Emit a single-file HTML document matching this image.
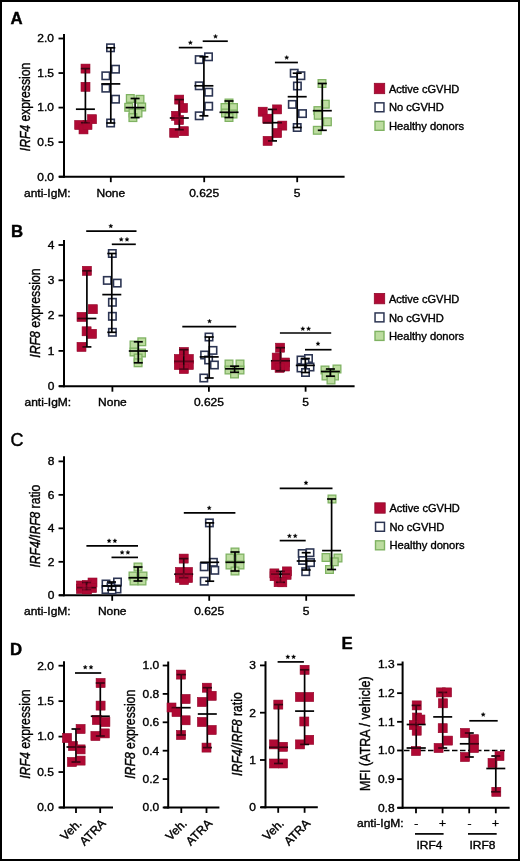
<!DOCTYPE html>
<html><head><meta charset="utf-8"><style>
html,body{margin:0;padding:0;background:#fff;}
body{width:520px;height:861px;overflow:hidden;}
svg{display:block;will-change:transform;}
text{font-family:"Liberation Sans", sans-serif;fill:#000;stroke:#000;stroke-width:0.4px;}
</style></head><body>
<svg width="520" height="861" viewBox="0 0 520 861">
<rect x="0" y="0" width="520" height="861" fill="#fff"/>
<rect x="1" y="1" width="518" height="859" fill="none" stroke="#000" stroke-width="2"/>
<text transform="translate(10.60,23.50) scale(1,1.0)" font-size="16.8" text-anchor="start" font-weight="bold" font-style="normal" >A</text>
<line x1="64.00" y1="34.00" x2="64.00" y2="177.70" stroke="#000" stroke-width="2"/>
<line x1="58.50" y1="176.70" x2="64.00" y2="176.70" stroke="#000" stroke-width="1.8"/>
<text transform="translate(53.90,180.54) scale(1,0.87)" font-size="12" text-anchor="end" font-weight="normal" font-style="normal" >0.0</text>
<line x1="58.50" y1="142.15" x2="64.00" y2="142.15" stroke="#000" stroke-width="1.8"/>
<text transform="translate(53.90,145.99) scale(1,0.87)" font-size="12" text-anchor="end" font-weight="normal" font-style="normal" >0.5</text>
<line x1="58.50" y1="107.60" x2="64.00" y2="107.60" stroke="#000" stroke-width="1.8"/>
<text transform="translate(53.90,111.44) scale(1,0.87)" font-size="12" text-anchor="end" font-weight="normal" font-style="normal" >1.0</text>
<line x1="58.50" y1="73.05" x2="64.00" y2="73.05" stroke="#000" stroke-width="1.8"/>
<text transform="translate(53.90,76.89) scale(1,0.87)" font-size="12" text-anchor="end" font-weight="normal" font-style="normal" >1.5</text>
<line x1="58.50" y1="38.50" x2="64.00" y2="38.50" stroke="#000" stroke-width="1.8"/>
<text transform="translate(53.90,42.34) scale(1,0.87)" font-size="12" text-anchor="end" font-weight="normal" font-style="normal" >2.0</text>
<line x1="59.00" y1="176.70" x2="344.60" y2="176.70" stroke="#000" stroke-width="2"/>
<line x1="110.80" y1="176.70" x2="110.80" y2="182.20" stroke="#000" stroke-width="1.8"/>
<line x1="204.20" y1="176.70" x2="204.20" y2="182.20" stroke="#000" stroke-width="1.8"/>
<line x1="297.20" y1="176.70" x2="297.20" y2="182.20" stroke="#000" stroke-width="1.8"/>
<text transform="translate(30.40,107.00) rotate(-90)" x="0" y="0" font-size="14.6" text-anchor="middle" textLength="88.5" lengthAdjust="spacingAndGlyphs"><tspan font-style="italic">IRF4</tspan><tspan font-style="normal"> expression</tspan></text>
<text transform="translate(24.00,196.70) scale(1,0.87)" font-size="12" text-anchor="start" font-weight="normal" font-style="normal" >anti-IgM:</text>
<text transform="translate(110.80,196.70) scale(1,0.87)" font-size="12" text-anchor="middle" font-weight="normal" font-style="normal" >None</text>
<text transform="translate(204.20,196.70) scale(1,0.87)" font-size="12" text-anchor="middle" font-weight="normal" font-style="normal" >0.625</text>
<text transform="translate(297.20,196.70) scale(1,0.87)" font-size="12" text-anchor="middle" font-weight="normal" font-style="normal" >5</text>
<rect x="81.00" y="64.10" width="9.00" height="9.00" fill="#b00a35" stroke="#900b2c" stroke-width="0.6"/>
<rect x="81.00" y="82.30" width="9.00" height="9.00" fill="#b00a35" stroke="#900b2c" stroke-width="0.6"/>
<rect x="87.50" y="114.70" width="9.00" height="9.00" fill="#b00a35" stroke="#900b2c" stroke-width="0.6"/>
<rect x="74.70" y="120.50" width="9.00" height="9.00" fill="#b00a35" stroke="#900b2c" stroke-width="0.6"/>
<rect x="79.00" y="124.90" width="9.00" height="9.00" fill="#b00a35" stroke="#900b2c" stroke-width="0.6"/>
<rect x="83.00" y="120.50" width="9.00" height="9.00" fill="#b00a35" stroke="#900b2c" stroke-width="0.6"/>
<rect x="106.80" y="44.10" width="7.40" height="7.40" fill="#ffffff" stroke="#2c3553" stroke-width="1.6"/>
<rect x="111.80" y="65.50" width="7.40" height="7.40" fill="#ffffff" stroke="#2c3553" stroke-width="1.6"/>
<rect x="102.10" y="72.10" width="7.40" height="7.40" fill="#ffffff" stroke="#2c3553" stroke-width="1.6"/>
<rect x="102.10" y="84.50" width="7.40" height="7.40" fill="#ffffff" stroke="#2c3553" stroke-width="1.6"/>
<rect x="111.80" y="95.50" width="7.40" height="7.40" fill="#ffffff" stroke="#2c3553" stroke-width="1.6"/>
<rect x="106.90" y="119.30" width="7.40" height="7.40" fill="#ffffff" stroke="#2c3553" stroke-width="1.6"/>
<rect x="126.45" y="94.65" width="7.70" height="7.70" fill="#bcdc9f" stroke="#7fb262" stroke-width="1.3"/>
<rect x="136.15" y="95.45" width="7.70" height="7.70" fill="#bcdc9f" stroke="#7fb262" stroke-width="1.3"/>
<rect x="124.85" y="103.45" width="7.70" height="7.70" fill="#bcdc9f" stroke="#7fb262" stroke-width="1.3"/>
<rect x="137.85" y="103.15" width="7.70" height="7.70" fill="#bcdc9f" stroke="#7fb262" stroke-width="1.3"/>
<rect x="129.15" y="109.15" width="7.70" height="7.70" fill="#bcdc9f" stroke="#7fb262" stroke-width="1.3"/>
<rect x="134.15" y="109.15" width="7.70" height="7.70" fill="#bcdc9f" stroke="#7fb262" stroke-width="1.3"/>
<rect x="129.05" y="113.75" width="7.70" height="7.70" fill="#bcdc9f" stroke="#7fb262" stroke-width="1.3"/>
<rect x="174.70" y="95.10" width="9.00" height="9.00" fill="#b00a35" stroke="#900b2c" stroke-width="0.6"/>
<rect x="178.50" y="103.50" width="9.00" height="9.00" fill="#b00a35" stroke="#900b2c" stroke-width="0.6"/>
<rect x="171.50" y="111.30" width="9.00" height="9.00" fill="#b00a35" stroke="#900b2c" stroke-width="0.6"/>
<rect x="174.50" y="115.50" width="9.00" height="9.00" fill="#b00a35" stroke="#900b2c" stroke-width="0.6"/>
<rect x="169.70" y="128.30" width="9.00" height="9.00" fill="#b00a35" stroke="#900b2c" stroke-width="0.6"/>
<rect x="179.30" y="126.70" width="9.00" height="9.00" fill="#b00a35" stroke="#900b2c" stroke-width="0.6"/>
<rect x="195.50" y="55.90" width="7.40" height="7.40" fill="#ffffff" stroke="#2c3553" stroke-width="1.6"/>
<rect x="204.80" y="53.10" width="7.40" height="7.40" fill="#ffffff" stroke="#2c3553" stroke-width="1.6"/>
<rect x="195.50" y="82.10" width="7.40" height="7.40" fill="#ffffff" stroke="#2c3553" stroke-width="1.6"/>
<rect x="205.00" y="88.50" width="7.40" height="7.40" fill="#ffffff" stroke="#2c3553" stroke-width="1.6"/>
<rect x="205.00" y="102.50" width="7.40" height="7.40" fill="#ffffff" stroke="#2c3553" stroke-width="1.6"/>
<rect x="195.50" y="112.10" width="7.40" height="7.40" fill="#ffffff" stroke="#2c3553" stroke-width="1.6"/>
<rect x="225.15" y="99.15" width="7.70" height="7.70" fill="#bcdc9f" stroke="#7fb262" stroke-width="1.3"/>
<rect x="221.15" y="103.65" width="7.70" height="7.70" fill="#bcdc9f" stroke="#7fb262" stroke-width="1.3"/>
<rect x="229.65" y="103.65" width="7.70" height="7.70" fill="#bcdc9f" stroke="#7fb262" stroke-width="1.3"/>
<rect x="221.65" y="109.15" width="7.70" height="7.70" fill="#bcdc9f" stroke="#7fb262" stroke-width="1.3"/>
<rect x="229.15" y="110.15" width="7.70" height="7.70" fill="#bcdc9f" stroke="#7fb262" stroke-width="1.3"/>
<rect x="225.15" y="113.65" width="7.70" height="7.70" fill="#bcdc9f" stroke="#7fb262" stroke-width="1.3"/>
<rect x="258.20" y="107.20" width="9.00" height="9.00" fill="#b00a35" stroke="#900b2c" stroke-width="0.6"/>
<rect x="272.60" y="104.90" width="9.00" height="9.00" fill="#b00a35" stroke="#900b2c" stroke-width="0.6"/>
<rect x="262.80" y="114.20" width="9.00" height="9.00" fill="#b00a35" stroke="#900b2c" stroke-width="0.6"/>
<rect x="277.80" y="121.10" width="9.00" height="9.00" fill="#b00a35" stroke="#900b2c" stroke-width="0.6"/>
<rect x="272.60" y="128.60" width="9.00" height="9.00" fill="#b00a35" stroke="#900b2c" stroke-width="0.6"/>
<rect x="263.10" y="136.40" width="9.00" height="9.00" fill="#b00a35" stroke="#900b2c" stroke-width="0.6"/>
<rect x="290.50" y="69.50" width="7.40" height="7.40" fill="#ffffff" stroke="#2c3553" stroke-width="1.6"/>
<rect x="297.20" y="72.00" width="7.40" height="7.40" fill="#ffffff" stroke="#2c3553" stroke-width="1.6"/>
<rect x="293.70" y="82.30" width="7.40" height="7.40" fill="#ffffff" stroke="#2c3553" stroke-width="1.6"/>
<rect x="288.60" y="100.70" width="7.40" height="7.40" fill="#ffffff" stroke="#2c3553" stroke-width="1.6"/>
<rect x="298.80" y="109.90" width="7.40" height="7.40" fill="#ffffff" stroke="#2c3553" stroke-width="1.6"/>
<rect x="293.50" y="123.80" width="7.40" height="7.40" fill="#ffffff" stroke="#2c3553" stroke-width="1.6"/>
<rect x="318.15" y="79.65" width="7.70" height="7.70" fill="#bcdc9f" stroke="#7fb262" stroke-width="1.3"/>
<rect x="321.45" y="100.35" width="7.70" height="7.70" fill="#bcdc9f" stroke="#7fb262" stroke-width="1.3"/>
<rect x="314.05" y="106.75" width="7.70" height="7.70" fill="#bcdc9f" stroke="#7fb262" stroke-width="1.3"/>
<rect x="314.35" y="111.45" width="7.70" height="7.70" fill="#bcdc9f" stroke="#7fb262" stroke-width="1.3"/>
<rect x="323.55" y="117.95" width="7.70" height="7.70" fill="#bcdc9f" stroke="#7fb262" stroke-width="1.3"/>
<rect x="313.45" y="126.45" width="7.70" height="7.70" fill="#bcdc9f" stroke="#7fb262" stroke-width="1.3"/>
<line x1="85.40" y1="68.60" x2="85.40" y2="122.70" stroke="#000" stroke-width="1.7"/>
<line x1="80.90" y1="68.60" x2="89.90" y2="68.60" stroke="#000" stroke-width="1.7"/>
<line x1="80.90" y1="122.70" x2="89.90" y2="122.70" stroke="#000" stroke-width="1.7"/>
<line x1="75.90" y1="109.20" x2="94.90" y2="109.20" stroke="#000" stroke-width="1.7"/>
<line x1="110.80" y1="47.80" x2="110.80" y2="123.00" stroke="#000" stroke-width="1.7"/>
<line x1="106.30" y1="47.80" x2="115.30" y2="47.80" stroke="#000" stroke-width="1.7"/>
<line x1="106.30" y1="123.00" x2="115.30" y2="123.00" stroke="#000" stroke-width="1.7"/>
<line x1="101.30" y1="83.90" x2="120.30" y2="83.90" stroke="#000" stroke-width="1.7"/>
<line x1="135.10" y1="98.50" x2="135.10" y2="117.60" stroke="#000" stroke-width="1.7"/>
<line x1="130.60" y1="98.50" x2="139.60" y2="98.50" stroke="#000" stroke-width="1.7"/>
<line x1="130.60" y1="117.60" x2="139.60" y2="117.60" stroke="#000" stroke-width="1.7"/>
<line x1="125.60" y1="107.60" x2="144.60" y2="107.60" stroke="#000" stroke-width="1.7"/>
<line x1="179.30" y1="99.60" x2="179.30" y2="129.70" stroke="#000" stroke-width="1.7"/>
<line x1="174.80" y1="99.60" x2="183.80" y2="99.60" stroke="#000" stroke-width="1.7"/>
<line x1="174.80" y1="129.70" x2="183.80" y2="129.70" stroke="#000" stroke-width="1.7"/>
<line x1="169.80" y1="118.00" x2="188.80" y2="118.00" stroke="#000" stroke-width="1.7"/>
<line x1="203.90" y1="56.80" x2="203.90" y2="115.80" stroke="#000" stroke-width="1.7"/>
<line x1="199.40" y1="56.80" x2="208.40" y2="56.80" stroke="#000" stroke-width="1.7"/>
<line x1="199.40" y1="115.80" x2="208.40" y2="115.80" stroke="#000" stroke-width="1.7"/>
<line x1="194.40" y1="85.80" x2="213.40" y2="85.80" stroke="#000" stroke-width="1.7"/>
<line x1="229.00" y1="101.00" x2="229.00" y2="117.50" stroke="#000" stroke-width="1.7"/>
<line x1="224.50" y1="101.00" x2="233.50" y2="101.00" stroke="#000" stroke-width="1.7"/>
<line x1="224.50" y1="117.50" x2="233.50" y2="117.50" stroke="#000" stroke-width="1.7"/>
<line x1="219.50" y1="112.30" x2="238.50" y2="112.30" stroke="#000" stroke-width="1.7"/>
<line x1="272.50" y1="109.40" x2="272.50" y2="140.90" stroke="#000" stroke-width="1.7"/>
<line x1="268.00" y1="109.40" x2="277.00" y2="109.40" stroke="#000" stroke-width="1.7"/>
<line x1="268.00" y1="140.90" x2="277.00" y2="140.90" stroke="#000" stroke-width="1.7"/>
<line x1="263.00" y1="122.70" x2="282.00" y2="122.70" stroke="#000" stroke-width="1.7"/>
<line x1="297.20" y1="73.20" x2="297.20" y2="127.50" stroke="#000" stroke-width="1.7"/>
<line x1="292.70" y1="73.20" x2="301.70" y2="73.20" stroke="#000" stroke-width="1.7"/>
<line x1="292.70" y1="127.50" x2="301.70" y2="127.50" stroke="#000" stroke-width="1.7"/>
<line x1="287.70" y1="96.70" x2="306.70" y2="96.70" stroke="#000" stroke-width="1.7"/>
<line x1="322.30" y1="83.50" x2="322.30" y2="130.30" stroke="#000" stroke-width="1.7"/>
<line x1="317.80" y1="83.50" x2="326.80" y2="83.50" stroke="#000" stroke-width="1.7"/>
<line x1="317.80" y1="130.30" x2="326.80" y2="130.30" stroke="#000" stroke-width="1.7"/>
<line x1="312.80" y1="110.70" x2="331.80" y2="110.70" stroke="#000" stroke-width="1.7"/>
<rect x="81.00" y="64.10" width="9.00" height="9.00" fill="#b00a35" fill-opacity="0.35"/>
<rect x="81.00" y="82.30" width="9.00" height="9.00" fill="#b00a35" fill-opacity="0.35"/>
<rect x="87.50" y="114.70" width="9.00" height="9.00" fill="#b00a35" fill-opacity="0.35"/>
<rect x="74.70" y="120.50" width="9.00" height="9.00" fill="#b00a35" fill-opacity="0.35"/>
<rect x="79.00" y="124.90" width="9.00" height="9.00" fill="#b00a35" fill-opacity="0.35"/>
<rect x="83.00" y="120.50" width="9.00" height="9.00" fill="#b00a35" fill-opacity="0.35"/>
<rect x="174.70" y="95.10" width="9.00" height="9.00" fill="#b00a35" fill-opacity="0.35"/>
<rect x="178.50" y="103.50" width="9.00" height="9.00" fill="#b00a35" fill-opacity="0.35"/>
<rect x="171.50" y="111.30" width="9.00" height="9.00" fill="#b00a35" fill-opacity="0.35"/>
<rect x="174.50" y="115.50" width="9.00" height="9.00" fill="#b00a35" fill-opacity="0.35"/>
<rect x="169.70" y="128.30" width="9.00" height="9.00" fill="#b00a35" fill-opacity="0.35"/>
<rect x="179.30" y="126.70" width="9.00" height="9.00" fill="#b00a35" fill-opacity="0.35"/>
<rect x="258.20" y="107.20" width="9.00" height="9.00" fill="#b00a35" fill-opacity="0.35"/>
<rect x="272.60" y="104.90" width="9.00" height="9.00" fill="#b00a35" fill-opacity="0.35"/>
<rect x="262.80" y="114.20" width="9.00" height="9.00" fill="#b00a35" fill-opacity="0.35"/>
<rect x="277.80" y="121.10" width="9.00" height="9.00" fill="#b00a35" fill-opacity="0.35"/>
<rect x="272.60" y="128.60" width="9.00" height="9.00" fill="#b00a35" fill-opacity="0.35"/>
<rect x="263.10" y="136.40" width="9.00" height="9.00" fill="#b00a35" fill-opacity="0.35"/>
<line x1="178.80" y1="47.60" x2="202.40" y2="47.60" stroke="#000" stroke-width="1.7"/>
<polygon points="190.40,40.50 190.99,41.89 192.49,42.02 191.35,43.01 191.69,44.48 190.40,43.70 189.11,44.48 189.45,43.01 188.31,42.02 189.81,41.89" fill="#000" stroke="#000" stroke-width="0.35" stroke-linejoin="round"/>
<line x1="202.70" y1="41.20" x2="227.80" y2="41.20" stroke="#000" stroke-width="1.7"/>
<polygon points="215.50,34.30 216.09,35.69 217.59,35.82 216.45,36.81 216.79,38.28 215.50,37.50 214.21,38.28 214.55,36.81 213.41,35.82 214.91,35.69" fill="#000" stroke="#000" stroke-width="0.35" stroke-linejoin="round"/>
<line x1="274.90" y1="62.50" x2="297.90" y2="62.50" stroke="#000" stroke-width="1.7"/>
<polygon points="286.70,55.40 287.29,56.79 288.79,56.92 287.65,57.91 287.99,59.38 286.70,58.60 285.41,59.38 285.75,57.91 284.61,56.92 286.11,56.79" fill="#000" stroke="#000" stroke-width="0.35" stroke-linejoin="round"/>
<rect x="374.30" y="83.30" width="10.4" height="10.4" fill="#b00a35" stroke="#900b2c" stroke-width="0.8"/>
<text transform="translate(388.90,92.60) scale(1,0.87)" font-size="11.6" text-anchor="start" font-weight="normal" font-style="normal" textLength="70.4" lengthAdjust="spacingAndGlyphs">Active cGVHD</text>
<rect x="375.05" y="102.85" width="8.9" height="8.9" fill="#fff" stroke="#2c3553" stroke-width="1.5"/>
<text transform="translate(388.90,111.40) scale(1,0.87)" font-size="11.6" text-anchor="start" font-weight="normal" font-style="normal" textLength="55.0" lengthAdjust="spacingAndGlyphs">No cGVHD</text>
<rect x="375.00" y="121.30" width="9.0" height="9.0" fill="#bcdc9f" stroke="#7fb262" stroke-width="1.4"/>
<text transform="translate(388.90,129.90) scale(1,0.87)" font-size="11.6" text-anchor="start" font-weight="normal" font-style="normal" textLength="75.2" lengthAdjust="spacingAndGlyphs">Healthy donors</text>
<text transform="translate(11.00,236.50) scale(1,1.0)" font-size="16.8" text-anchor="start" font-weight="bold" font-style="normal" >B</text>
<line x1="64.00" y1="240.00" x2="64.00" y2="387.20" stroke="#000" stroke-width="2"/>
<line x1="58.50" y1="386.20" x2="64.00" y2="386.20" stroke="#000" stroke-width="1.8"/>
<text transform="translate(54.40,390.04) scale(1,0.87)" font-size="12" text-anchor="end" font-weight="normal" font-style="normal" >0</text>
<line x1="58.50" y1="350.90" x2="64.00" y2="350.90" stroke="#000" stroke-width="1.8"/>
<text transform="translate(54.40,354.74) scale(1,0.87)" font-size="12" text-anchor="end" font-weight="normal" font-style="normal" >1</text>
<line x1="58.50" y1="315.60" x2="64.00" y2="315.60" stroke="#000" stroke-width="1.8"/>
<text transform="translate(54.40,319.44) scale(1,0.87)" font-size="12" text-anchor="end" font-weight="normal" font-style="normal" >2</text>
<line x1="58.50" y1="280.30" x2="64.00" y2="280.30" stroke="#000" stroke-width="1.8"/>
<text transform="translate(54.40,284.14) scale(1,0.87)" font-size="12" text-anchor="end" font-weight="normal" font-style="normal" >3</text>
<line x1="58.50" y1="245.00" x2="64.00" y2="245.00" stroke="#000" stroke-width="1.8"/>
<text transform="translate(54.40,248.84) scale(1,0.87)" font-size="12" text-anchor="end" font-weight="normal" font-style="normal" >4</text>
<line x1="59.00" y1="386.20" x2="354.60" y2="386.20" stroke="#000" stroke-width="2"/>
<line x1="112.40" y1="386.20" x2="112.40" y2="391.70" stroke="#000" stroke-width="1.8"/>
<line x1="208.90" y1="386.20" x2="208.90" y2="391.70" stroke="#000" stroke-width="1.8"/>
<line x1="305.60" y1="386.20" x2="305.60" y2="391.70" stroke="#000" stroke-width="1.8"/>
<text transform="translate(40.20,313.00) rotate(-90)" x="0" y="0" font-size="14.6" text-anchor="middle" textLength="89.3" lengthAdjust="spacingAndGlyphs"><tspan font-style="italic">IRF8</tspan><tspan font-style="normal"> expression</tspan></text>
<text transform="translate(24.50,406.10) scale(1,0.87)" font-size="12" text-anchor="start" font-weight="normal" font-style="normal" >anti-IgM:</text>
<text transform="translate(112.40,406.10) scale(1,0.87)" font-size="12" text-anchor="middle" font-weight="normal" font-style="normal" >None</text>
<text transform="translate(208.90,406.10) scale(1,0.87)" font-size="12" text-anchor="middle" font-weight="normal" font-style="normal" >0.625</text>
<text transform="translate(305.60,406.10) scale(1,0.87)" font-size="12" text-anchor="middle" font-weight="normal" font-style="normal" >5</text>
<rect x="82.40" y="266.30" width="9.00" height="9.00" fill="#b00a35" stroke="#900b2c" stroke-width="0.6"/>
<rect x="88.30" y="304.70" width="9.00" height="9.00" fill="#b00a35" stroke="#900b2c" stroke-width="0.6"/>
<rect x="77.00" y="312.40" width="9.00" height="9.00" fill="#b00a35" stroke="#900b2c" stroke-width="0.6"/>
<rect x="82.10" y="326.80" width="9.00" height="9.00" fill="#b00a35" stroke="#900b2c" stroke-width="0.6"/>
<rect x="87.50" y="329.30" width="9.00" height="9.00" fill="#b00a35" stroke="#900b2c" stroke-width="0.6"/>
<rect x="77.00" y="342.40" width="9.00" height="9.00" fill="#b00a35" stroke="#900b2c" stroke-width="0.6"/>
<rect x="108.60" y="249.80" width="7.40" height="7.40" fill="#ffffff" stroke="#2c3553" stroke-width="1.6"/>
<rect x="103.60" y="276.70" width="7.40" height="7.40" fill="#ffffff" stroke="#2c3553" stroke-width="1.6"/>
<rect x="113.50" y="279.40" width="7.40" height="7.40" fill="#ffffff" stroke="#2c3553" stroke-width="1.6"/>
<rect x="108.70" y="298.60" width="7.40" height="7.40" fill="#ffffff" stroke="#2c3553" stroke-width="1.6"/>
<rect x="108.70" y="312.60" width="7.40" height="7.40" fill="#ffffff" stroke="#2c3553" stroke-width="1.6"/>
<rect x="108.70" y="328.60" width="7.40" height="7.40" fill="#ffffff" stroke="#2c3553" stroke-width="1.6"/>
<rect x="137.95" y="337.95" width="7.70" height="7.70" fill="#bcdc9f" stroke="#7fb262" stroke-width="1.3"/>
<rect x="130.15" y="341.15" width="7.70" height="7.70" fill="#bcdc9f" stroke="#7fb262" stroke-width="1.3"/>
<rect x="130.15" y="348.15" width="7.70" height="7.70" fill="#bcdc9f" stroke="#7fb262" stroke-width="1.3"/>
<rect x="137.65" y="349.15" width="7.70" height="7.70" fill="#bcdc9f" stroke="#7fb262" stroke-width="1.3"/>
<rect x="134.25" y="354.15" width="7.70" height="7.70" fill="#bcdc9f" stroke="#7fb262" stroke-width="1.3"/>
<rect x="134.25" y="358.95" width="7.70" height="7.70" fill="#bcdc9f" stroke="#7fb262" stroke-width="1.3"/>
<rect x="179.30" y="347.50" width="9.00" height="9.00" fill="#b00a35" stroke="#900b2c" stroke-width="0.6"/>
<rect x="174.30" y="354.50" width="9.00" height="9.00" fill="#b00a35" stroke="#900b2c" stroke-width="0.6"/>
<rect x="184.30" y="354.50" width="9.00" height="9.00" fill="#b00a35" stroke="#900b2c" stroke-width="0.6"/>
<rect x="174.30" y="360.50" width="9.00" height="9.00" fill="#b00a35" stroke="#900b2c" stroke-width="0.6"/>
<rect x="184.30" y="360.50" width="9.00" height="9.00" fill="#b00a35" stroke="#900b2c" stroke-width="0.6"/>
<rect x="179.30" y="364.50" width="9.00" height="9.00" fill="#b00a35" stroke="#900b2c" stroke-width="0.6"/>
<rect x="205.30" y="333.30" width="7.40" height="7.40" fill="#ffffff" stroke="#2c3553" stroke-width="1.6"/>
<rect x="209.30" y="346.70" width="7.40" height="7.40" fill="#ffffff" stroke="#2c3553" stroke-width="1.6"/>
<rect x="200.90" y="351.30" width="7.40" height="7.40" fill="#ffffff" stroke="#2c3553" stroke-width="1.6"/>
<rect x="204.90" y="356.30" width="7.40" height="7.40" fill="#ffffff" stroke="#2c3553" stroke-width="1.6"/>
<rect x="210.70" y="361.30" width="7.40" height="7.40" fill="#ffffff" stroke="#2c3553" stroke-width="1.6"/>
<rect x="200.10" y="374.30" width="7.40" height="7.40" fill="#ffffff" stroke="#2c3553" stroke-width="1.6"/>
<rect x="225.15" y="360.15" width="7.70" height="7.70" fill="#bcdc9f" stroke="#7fb262" stroke-width="1.3"/>
<rect x="236.15" y="360.15" width="7.70" height="7.70" fill="#bcdc9f" stroke="#7fb262" stroke-width="1.3"/>
<rect x="225.15" y="366.15" width="7.70" height="7.70" fill="#bcdc9f" stroke="#7fb262" stroke-width="1.3"/>
<rect x="236.15" y="366.15" width="7.70" height="7.70" fill="#bcdc9f" stroke="#7fb262" stroke-width="1.3"/>
<rect x="230.65" y="370.15" width="7.70" height="7.70" fill="#bcdc9f" stroke="#7fb262" stroke-width="1.3"/>
<rect x="275.60" y="343.20" width="9.00" height="9.00" fill="#b00a35" stroke="#900b2c" stroke-width="0.6"/>
<rect x="272.20" y="353.10" width="9.00" height="9.00" fill="#b00a35" stroke="#900b2c" stroke-width="0.6"/>
<rect x="280.50" y="358.00" width="9.00" height="9.00" fill="#b00a35" stroke="#900b2c" stroke-width="0.6"/>
<rect x="271.50" y="360.50" width="9.00" height="9.00" fill="#b00a35" stroke="#900b2c" stroke-width="0.6"/>
<rect x="280.50" y="362.00" width="9.00" height="9.00" fill="#b00a35" stroke="#900b2c" stroke-width="0.6"/>
<rect x="275.10" y="363.30" width="9.00" height="9.00" fill="#b00a35" stroke="#900b2c" stroke-width="0.6"/>
<rect x="297.30" y="356.30" width="7.40" height="7.40" fill="#ffffff" stroke="#2c3553" stroke-width="1.6"/>
<rect x="304.80" y="354.80" width="7.40" height="7.40" fill="#ffffff" stroke="#2c3553" stroke-width="1.6"/>
<rect x="301.30" y="359.30" width="7.40" height="7.40" fill="#ffffff" stroke="#2c3553" stroke-width="1.6"/>
<rect x="306.30" y="363.30" width="7.40" height="7.40" fill="#ffffff" stroke="#2c3553" stroke-width="1.6"/>
<rect x="297.30" y="364.30" width="7.40" height="7.40" fill="#ffffff" stroke="#2c3553" stroke-width="1.6"/>
<rect x="301.80" y="368.80" width="7.40" height="7.40" fill="#ffffff" stroke="#2c3553" stroke-width="1.6"/>
<rect x="321.15" y="366.15" width="7.70" height="7.70" fill="#bcdc9f" stroke="#7fb262" stroke-width="1.3"/>
<rect x="333.15" y="365.15" width="7.70" height="7.70" fill="#bcdc9f" stroke="#7fb262" stroke-width="1.3"/>
<rect x="326.15" y="370.15" width="7.70" height="7.70" fill="#bcdc9f" stroke="#7fb262" stroke-width="1.3"/>
<rect x="322.15" y="372.15" width="7.70" height="7.70" fill="#bcdc9f" stroke="#7fb262" stroke-width="1.3"/>
<rect x="330.65" y="372.15" width="7.70" height="7.70" fill="#bcdc9f" stroke="#7fb262" stroke-width="1.3"/>
<rect x="327.15" y="376.15" width="7.70" height="7.70" fill="#bcdc9f" stroke="#7fb262" stroke-width="1.3"/>
<line x1="86.90" y1="270.80" x2="86.90" y2="346.90" stroke="#000" stroke-width="1.7"/>
<line x1="82.40" y1="270.80" x2="91.40" y2="270.80" stroke="#000" stroke-width="1.7"/>
<line x1="82.40" y1="346.90" x2="91.40" y2="346.90" stroke="#000" stroke-width="1.7"/>
<line x1="77.40" y1="318.50" x2="96.40" y2="318.50" stroke="#000" stroke-width="1.7"/>
<line x1="111.80" y1="253.50" x2="111.80" y2="332.30" stroke="#000" stroke-width="1.7"/>
<line x1="107.30" y1="253.50" x2="116.30" y2="253.50" stroke="#000" stroke-width="1.7"/>
<line x1="107.30" y1="332.30" x2="116.30" y2="332.30" stroke="#000" stroke-width="1.7"/>
<line x1="102.30" y1="294.60" x2="121.30" y2="294.60" stroke="#000" stroke-width="1.7"/>
<line x1="138.30" y1="341.80" x2="138.30" y2="362.80" stroke="#000" stroke-width="1.7"/>
<line x1="133.80" y1="341.80" x2="142.80" y2="341.80" stroke="#000" stroke-width="1.7"/>
<line x1="133.80" y1="362.80" x2="142.80" y2="362.80" stroke="#000" stroke-width="1.7"/>
<line x1="128.80" y1="351.00" x2="147.80" y2="351.00" stroke="#000" stroke-width="1.7"/>
<line x1="183.80" y1="349.70" x2="183.80" y2="369.00" stroke="#000" stroke-width="1.7"/>
<line x1="179.30" y1="349.70" x2="188.30" y2="349.70" stroke="#000" stroke-width="1.7"/>
<line x1="179.30" y1="369.00" x2="188.30" y2="369.00" stroke="#000" stroke-width="1.7"/>
<line x1="174.30" y1="361.50" x2="193.30" y2="361.50" stroke="#000" stroke-width="1.7"/>
<line x1="209.20" y1="337.00" x2="209.20" y2="378.00" stroke="#000" stroke-width="1.7"/>
<line x1="204.70" y1="337.00" x2="213.70" y2="337.00" stroke="#000" stroke-width="1.7"/>
<line x1="204.70" y1="378.00" x2="213.70" y2="378.00" stroke="#000" stroke-width="1.7"/>
<line x1="199.70" y1="356.90" x2="218.70" y2="356.90" stroke="#000" stroke-width="1.7"/>
<line x1="234.60" y1="366.20" x2="234.60" y2="372.30" stroke="#000" stroke-width="1.7"/>
<line x1="230.10" y1="366.20" x2="239.10" y2="366.20" stroke="#000" stroke-width="1.7"/>
<line x1="230.10" y1="372.30" x2="239.10" y2="372.30" stroke="#000" stroke-width="1.7"/>
<line x1="225.10" y1="368.80" x2="244.10" y2="368.80" stroke="#000" stroke-width="1.7"/>
<line x1="280.40" y1="347.70" x2="280.40" y2="370.80" stroke="#000" stroke-width="1.7"/>
<line x1="275.90" y1="347.70" x2="284.90" y2="347.70" stroke="#000" stroke-width="1.7"/>
<line x1="275.90" y1="370.80" x2="284.90" y2="370.80" stroke="#000" stroke-width="1.7"/>
<line x1="270.90" y1="360.80" x2="289.90" y2="360.80" stroke="#000" stroke-width="1.7"/>
<line x1="305.30" y1="358.50" x2="305.30" y2="372.50" stroke="#000" stroke-width="1.7"/>
<line x1="300.80" y1="358.50" x2="309.80" y2="358.50" stroke="#000" stroke-width="1.7"/>
<line x1="300.80" y1="372.50" x2="309.80" y2="372.50" stroke="#000" stroke-width="1.7"/>
<line x1="295.80" y1="365.40" x2="314.80" y2="365.40" stroke="#000" stroke-width="1.7"/>
<line x1="330.40" y1="369.00" x2="330.40" y2="376.20" stroke="#000" stroke-width="1.7"/>
<line x1="325.90" y1="369.00" x2="334.90" y2="369.00" stroke="#000" stroke-width="1.7"/>
<line x1="325.90" y1="376.20" x2="334.90" y2="376.20" stroke="#000" stroke-width="1.7"/>
<line x1="320.90" y1="371.50" x2="339.90" y2="371.50" stroke="#000" stroke-width="1.7"/>
<rect x="82.40" y="266.30" width="9.00" height="9.00" fill="#b00a35" fill-opacity="0.35"/>
<rect x="88.30" y="304.70" width="9.00" height="9.00" fill="#b00a35" fill-opacity="0.35"/>
<rect x="77.00" y="312.40" width="9.00" height="9.00" fill="#b00a35" fill-opacity="0.35"/>
<rect x="82.10" y="326.80" width="9.00" height="9.00" fill="#b00a35" fill-opacity="0.35"/>
<rect x="87.50" y="329.30" width="9.00" height="9.00" fill="#b00a35" fill-opacity="0.35"/>
<rect x="77.00" y="342.40" width="9.00" height="9.00" fill="#b00a35" fill-opacity="0.35"/>
<rect x="179.30" y="347.50" width="9.00" height="9.00" fill="#b00a35" fill-opacity="0.35"/>
<rect x="174.30" y="354.50" width="9.00" height="9.00" fill="#b00a35" fill-opacity="0.35"/>
<rect x="184.30" y="354.50" width="9.00" height="9.00" fill="#b00a35" fill-opacity="0.35"/>
<rect x="174.30" y="360.50" width="9.00" height="9.00" fill="#b00a35" fill-opacity="0.35"/>
<rect x="184.30" y="360.50" width="9.00" height="9.00" fill="#b00a35" fill-opacity="0.35"/>
<rect x="179.30" y="364.50" width="9.00" height="9.00" fill="#b00a35" fill-opacity="0.35"/>
<rect x="275.60" y="343.20" width="9.00" height="9.00" fill="#b00a35" fill-opacity="0.35"/>
<rect x="272.20" y="353.10" width="9.00" height="9.00" fill="#b00a35" fill-opacity="0.35"/>
<rect x="280.50" y="358.00" width="9.00" height="9.00" fill="#b00a35" fill-opacity="0.35"/>
<rect x="271.50" y="360.50" width="9.00" height="9.00" fill="#b00a35" fill-opacity="0.35"/>
<rect x="280.50" y="362.00" width="9.00" height="9.00" fill="#b00a35" fill-opacity="0.35"/>
<rect x="275.10" y="363.30" width="9.00" height="9.00" fill="#b00a35" fill-opacity="0.35"/>
<line x1="86.20" y1="231.10" x2="136.50" y2="231.10" stroke="#000" stroke-width="1.7"/>
<polygon points="110.80,223.90 111.39,225.29 112.89,225.42 111.75,226.41 112.09,227.88 110.80,227.10 109.51,227.88 109.85,226.41 108.71,225.42 110.21,225.29" fill="#000" stroke="#000" stroke-width="0.35" stroke-linejoin="round"/>
<line x1="111.80" y1="244.30" x2="135.80" y2="244.30" stroke="#000" stroke-width="1.7"/>
<polygon points="121.20,237.30 121.79,238.69 123.29,238.82 122.15,239.81 122.49,241.28 121.20,240.50 119.91,241.28 120.25,239.81 119.11,238.82 120.61,238.69" fill="#000" stroke="#000" stroke-width="0.35" stroke-linejoin="round"/>
<polygon points="127.00,237.30 127.59,238.69 129.09,238.82 127.95,239.81 128.29,241.28 127.00,240.50 125.71,241.28 126.05,239.81 124.91,238.82 126.41,238.69" fill="#000" stroke="#000" stroke-width="0.35" stroke-linejoin="round"/>
<line x1="182.30" y1="326.60" x2="236.20" y2="326.60" stroke="#000" stroke-width="1.7"/>
<polygon points="209.50,319.10 210.09,320.49 211.59,320.62 210.45,321.61 210.79,323.08 209.50,322.30 208.21,323.08 208.55,321.61 207.41,320.62 208.91,320.49" fill="#000" stroke="#000" stroke-width="0.35" stroke-linejoin="round"/>
<line x1="279.90" y1="333.00" x2="331.20" y2="333.00" stroke="#000" stroke-width="1.7"/>
<polygon points="302.80,326.60 303.39,327.99 304.89,328.12 303.75,329.11 304.09,330.58 302.80,329.80 301.51,330.58 301.85,329.11 300.71,328.12 302.21,327.99" fill="#000" stroke="#000" stroke-width="0.35" stroke-linejoin="round"/>
<polygon points="308.60,326.60 309.19,327.99 310.69,328.12 309.55,329.11 309.89,330.58 308.60,329.80 307.31,330.58 307.65,329.11 306.51,328.12 308.01,327.99" fill="#000" stroke="#000" stroke-width="0.35" stroke-linejoin="round"/>
<line x1="305.00" y1="349.70" x2="331.50" y2="349.70" stroke="#000" stroke-width="1.7"/>
<polygon points="318.00,341.60 318.59,342.99 320.09,343.12 318.95,344.11 319.29,345.58 318.00,344.80 316.71,345.58 317.05,344.11 315.91,343.12 317.41,342.99" fill="#000" stroke="#000" stroke-width="0.35" stroke-linejoin="round"/>
<rect x="374.30" y="293.40" width="10.4" height="10.4" fill="#b00a35" stroke="#900b2c" stroke-width="0.8"/>
<text transform="translate(388.90,302.70) scale(1,0.87)" font-size="11.6" text-anchor="start" font-weight="normal" font-style="normal" textLength="70.4" lengthAdjust="spacingAndGlyphs">Active cGVHD</text>
<rect x="375.05" y="312.95" width="8.9" height="8.9" fill="#fff" stroke="#2c3553" stroke-width="1.5"/>
<text transform="translate(388.90,321.50) scale(1,0.87)" font-size="11.6" text-anchor="start" font-weight="normal" font-style="normal" textLength="55.0" lengthAdjust="spacingAndGlyphs">No cGVHD</text>
<rect x="375.00" y="331.40" width="9.0" height="9.0" fill="#bcdc9f" stroke="#7fb262" stroke-width="1.4"/>
<text transform="translate(388.90,340.00) scale(1,0.87)" font-size="11.6" text-anchor="start" font-weight="normal" font-style="normal" textLength="75.2" lengthAdjust="spacingAndGlyphs">Healthy donors</text>
<text transform="translate(10.60,445.60) scale(1,1.0)" font-size="18" text-anchor="start" font-weight="normal" font-style="normal" >C</text>
<line x1="64.00" y1="456.30" x2="64.00" y2="596.30" stroke="#000" stroke-width="2"/>
<line x1="58.50" y1="595.30" x2="64.00" y2="595.30" stroke="#000" stroke-width="1.8"/>
<text transform="translate(54.40,599.14) scale(1,0.87)" font-size="12" text-anchor="end" font-weight="normal" font-style="normal" >0</text>
<line x1="58.50" y1="561.82" x2="64.00" y2="561.82" stroke="#000" stroke-width="1.8"/>
<text transform="translate(54.40,565.66) scale(1,0.87)" font-size="12" text-anchor="end" font-weight="normal" font-style="normal" >2</text>
<line x1="58.50" y1="528.34" x2="64.00" y2="528.34" stroke="#000" stroke-width="1.8"/>
<text transform="translate(54.40,532.18) scale(1,0.87)" font-size="12" text-anchor="end" font-weight="normal" font-style="normal" >4</text>
<line x1="58.50" y1="494.86" x2="64.00" y2="494.86" stroke="#000" stroke-width="1.8"/>
<text transform="translate(54.40,498.70) scale(1,0.87)" font-size="12" text-anchor="end" font-weight="normal" font-style="normal" >6</text>
<line x1="58.50" y1="461.38" x2="64.00" y2="461.38" stroke="#000" stroke-width="1.8"/>
<text transform="translate(54.40,465.22) scale(1,0.87)" font-size="12" text-anchor="end" font-weight="normal" font-style="normal" >8</text>
<line x1="59.00" y1="595.30" x2="354.80" y2="595.30" stroke="#000" stroke-width="2"/>
<line x1="112.20" y1="595.30" x2="112.20" y2="600.80" stroke="#000" stroke-width="1.8"/>
<line x1="209.20" y1="595.30" x2="209.20" y2="600.80" stroke="#000" stroke-width="1.8"/>
<line x1="306.20" y1="595.30" x2="306.20" y2="600.80" stroke="#000" stroke-width="1.8"/>
<text transform="translate(40.20,526.20) rotate(-90)" x="0" y="0" font-size="14.6" text-anchor="middle" textLength="82.8" lengthAdjust="spacingAndGlyphs"><tspan font-style="italic">IRF4/IRF8</tspan><tspan font-style="normal"> ratio</tspan></text>
<text transform="translate(24.00,615.30) scale(1,0.87)" font-size="12" text-anchor="start" font-weight="normal" font-style="normal" >anti-IgM:</text>
<text transform="translate(112.20,615.30) scale(1,0.87)" font-size="12" text-anchor="middle" font-weight="normal" font-style="normal" >None</text>
<text transform="translate(209.20,615.30) scale(1,0.87)" font-size="12" text-anchor="middle" font-weight="normal" font-style="normal" >0.625</text>
<text transform="translate(306.20,615.30) scale(1,0.87)" font-size="12" text-anchor="middle" font-weight="normal" font-style="normal" >5</text>
<rect x="76.50" y="581.00" width="9.00" height="9.00" fill="#b00a35" stroke="#900b2c" stroke-width="0.6"/>
<rect x="88.00" y="578.00" width="9.00" height="9.00" fill="#b00a35" stroke="#900b2c" stroke-width="0.6"/>
<rect x="82.50" y="580.50" width="9.00" height="9.00" fill="#b00a35" stroke="#900b2c" stroke-width="0.6"/>
<rect x="76.50" y="584.50" width="9.00" height="9.00" fill="#b00a35" stroke="#900b2c" stroke-width="0.6"/>
<rect x="87.50" y="583.50" width="9.00" height="9.00" fill="#b00a35" stroke="#900b2c" stroke-width="0.6"/>
<rect x="82.50" y="585.00" width="9.00" height="9.00" fill="#b00a35" stroke="#900b2c" stroke-width="0.6"/>
<rect x="113.80" y="578.30" width="7.40" height="7.40" fill="#ffffff" stroke="#2c3553" stroke-width="1.6"/>
<rect x="102.30" y="580.30" width="7.40" height="7.40" fill="#ffffff" stroke="#2c3553" stroke-width="1.6"/>
<rect x="107.30" y="583.30" width="7.40" height="7.40" fill="#ffffff" stroke="#2c3553" stroke-width="1.6"/>
<rect x="102.30" y="585.80" width="7.40" height="7.40" fill="#ffffff" stroke="#2c3553" stroke-width="1.6"/>
<rect x="113.30" y="585.30" width="7.40" height="7.40" fill="#ffffff" stroke="#2c3553" stroke-width="1.6"/>
<rect x="108.30" y="586.30" width="7.40" height="7.40" fill="#ffffff" stroke="#2c3553" stroke-width="1.6"/>
<rect x="134.15" y="563.15" width="7.70" height="7.70" fill="#bcdc9f" stroke="#7fb262" stroke-width="1.3"/>
<rect x="129.15" y="572.15" width="7.70" height="7.70" fill="#bcdc9f" stroke="#7fb262" stroke-width="1.3"/>
<rect x="139.15" y="572.15" width="7.70" height="7.70" fill="#bcdc9f" stroke="#7fb262" stroke-width="1.3"/>
<rect x="130.15" y="577.15" width="7.70" height="7.70" fill="#bcdc9f" stroke="#7fb262" stroke-width="1.3"/>
<rect x="138.15" y="577.15" width="7.70" height="7.70" fill="#bcdc9f" stroke="#7fb262" stroke-width="1.3"/>
<rect x="179.20" y="554.10" width="9.00" height="9.00" fill="#b00a35" stroke="#900b2c" stroke-width="0.6"/>
<rect x="175.50" y="567.50" width="9.00" height="9.00" fill="#b00a35" stroke="#900b2c" stroke-width="0.6"/>
<rect x="183.50" y="567.50" width="9.00" height="9.00" fill="#b00a35" stroke="#900b2c" stroke-width="0.6"/>
<rect x="175.50" y="573.50" width="9.00" height="9.00" fill="#b00a35" stroke="#900b2c" stroke-width="0.6"/>
<rect x="183.50" y="573.50" width="9.00" height="9.00" fill="#b00a35" stroke="#900b2c" stroke-width="0.6"/>
<rect x="179.50" y="575.50" width="9.00" height="9.00" fill="#b00a35" stroke="#900b2c" stroke-width="0.6"/>
<rect x="205.70" y="519.20" width="7.40" height="7.40" fill="#ffffff" stroke="#2c3553" stroke-width="1.6"/>
<rect x="209.70" y="558.60" width="7.40" height="7.40" fill="#ffffff" stroke="#2c3553" stroke-width="1.6"/>
<rect x="200.50" y="563.10" width="7.40" height="7.40" fill="#ffffff" stroke="#2c3553" stroke-width="1.6"/>
<rect x="211.10" y="566.60" width="7.40" height="7.40" fill="#ffffff" stroke="#2c3553" stroke-width="1.6"/>
<rect x="200.50" y="577.50" width="7.40" height="7.40" fill="#ffffff" stroke="#2c3553" stroke-width="1.6"/>
<rect x="231.15" y="548.15" width="7.70" height="7.70" fill="#bcdc9f" stroke="#7fb262" stroke-width="1.3"/>
<rect x="226.15" y="554.15" width="7.70" height="7.70" fill="#bcdc9f" stroke="#7fb262" stroke-width="1.3"/>
<rect x="236.15" y="554.15" width="7.70" height="7.70" fill="#bcdc9f" stroke="#7fb262" stroke-width="1.3"/>
<rect x="226.15" y="561.15" width="7.70" height="7.70" fill="#bcdc9f" stroke="#7fb262" stroke-width="1.3"/>
<rect x="236.15" y="561.15" width="7.70" height="7.70" fill="#bcdc9f" stroke="#7fb262" stroke-width="1.3"/>
<rect x="231.15" y="567.15" width="7.70" height="7.70" fill="#bcdc9f" stroke="#7fb262" stroke-width="1.3"/>
<rect x="269.90" y="568.90" width="9.00" height="9.00" fill="#b00a35" stroke="#900b2c" stroke-width="0.6"/>
<rect x="270.10" y="571.70" width="9.00" height="9.00" fill="#b00a35" stroke="#900b2c" stroke-width="0.6"/>
<rect x="282.40" y="566.90" width="9.00" height="9.00" fill="#b00a35" stroke="#900b2c" stroke-width="0.6"/>
<rect x="282.10" y="570.30" width="9.00" height="9.00" fill="#b00a35" stroke="#900b2c" stroke-width="0.6"/>
<rect x="274.10" y="577.70" width="9.00" height="9.00" fill="#b00a35" stroke="#900b2c" stroke-width="0.6"/>
<rect x="277.80" y="577.80" width="9.00" height="9.00" fill="#b00a35" stroke="#900b2c" stroke-width="0.6"/>
<rect x="298.50" y="549.80" width="7.40" height="7.40" fill="#ffffff" stroke="#2c3553" stroke-width="1.6"/>
<rect x="306.30" y="549.00" width="7.40" height="7.40" fill="#ffffff" stroke="#2c3553" stroke-width="1.6"/>
<rect x="298.90" y="556.80" width="7.40" height="7.40" fill="#ffffff" stroke="#2c3553" stroke-width="1.6"/>
<rect x="306.80" y="558.90" width="7.40" height="7.40" fill="#ffffff" stroke="#2c3553" stroke-width="1.6"/>
<rect x="302.00" y="568.00" width="7.40" height="7.40" fill="#ffffff" stroke="#2c3553" stroke-width="1.6"/>
<rect x="328.15" y="495.15" width="7.70" height="7.70" fill="#bcdc9f" stroke="#7fb262" stroke-width="1.3"/>
<rect x="322.15" y="553.65" width="7.70" height="7.70" fill="#bcdc9f" stroke="#7fb262" stroke-width="1.3"/>
<rect x="334.15" y="554.15" width="7.70" height="7.70" fill="#bcdc9f" stroke="#7fb262" stroke-width="1.3"/>
<rect x="330.45" y="557.95" width="7.70" height="7.70" fill="#bcdc9f" stroke="#7fb262" stroke-width="1.3"/>
<rect x="325.65" y="565.65" width="7.70" height="7.70" fill="#bcdc9f" stroke="#7fb262" stroke-width="1.3"/>
<line x1="86.50" y1="582.50" x2="86.50" y2="589.50" stroke="#000" stroke-width="1.7"/>
<line x1="82.00" y1="582.50" x2="91.00" y2="582.50" stroke="#000" stroke-width="1.7"/>
<line x1="82.00" y1="589.50" x2="91.00" y2="589.50" stroke="#000" stroke-width="1.7"/>
<line x1="77.00" y1="587.60" x2="96.00" y2="587.60" stroke="#000" stroke-width="1.7"/>
<line x1="111.50" y1="582.00" x2="111.50" y2="590.00" stroke="#000" stroke-width="1.7"/>
<line x1="107.00" y1="582.00" x2="116.00" y2="582.00" stroke="#000" stroke-width="1.7"/>
<line x1="107.00" y1="590.00" x2="116.00" y2="590.00" stroke="#000" stroke-width="1.7"/>
<line x1="102.00" y1="586.00" x2="121.00" y2="586.00" stroke="#000" stroke-width="1.7"/>
<line x1="138.00" y1="567.00" x2="138.00" y2="581.00" stroke="#000" stroke-width="1.7"/>
<line x1="133.50" y1="567.00" x2="142.50" y2="567.00" stroke="#000" stroke-width="1.7"/>
<line x1="133.50" y1="581.00" x2="142.50" y2="581.00" stroke="#000" stroke-width="1.7"/>
<line x1="128.50" y1="577.80" x2="147.50" y2="577.80" stroke="#000" stroke-width="1.7"/>
<line x1="183.70" y1="558.60" x2="183.70" y2="577.70" stroke="#000" stroke-width="1.7"/>
<line x1="179.20" y1="558.60" x2="188.20" y2="558.60" stroke="#000" stroke-width="1.7"/>
<line x1="179.20" y1="577.70" x2="188.20" y2="577.70" stroke="#000" stroke-width="1.7"/>
<line x1="174.20" y1="574.20" x2="193.20" y2="574.20" stroke="#000" stroke-width="1.7"/>
<line x1="209.70" y1="522.90" x2="209.70" y2="581.20" stroke="#000" stroke-width="1.7"/>
<line x1="205.20" y1="522.90" x2="214.20" y2="522.90" stroke="#000" stroke-width="1.7"/>
<line x1="205.20" y1="581.20" x2="214.20" y2="581.20" stroke="#000" stroke-width="1.7"/>
<line x1="200.20" y1="562.30" x2="219.20" y2="562.30" stroke="#000" stroke-width="1.7"/>
<line x1="235.00" y1="552.00" x2="235.00" y2="571.00" stroke="#000" stroke-width="1.7"/>
<line x1="230.50" y1="552.00" x2="239.50" y2="552.00" stroke="#000" stroke-width="1.7"/>
<line x1="230.50" y1="571.00" x2="239.50" y2="571.00" stroke="#000" stroke-width="1.7"/>
<line x1="225.50" y1="562.30" x2="244.50" y2="562.30" stroke="#000" stroke-width="1.7"/>
<line x1="280.50" y1="571.40" x2="280.50" y2="582.30" stroke="#000" stroke-width="1.7"/>
<line x1="276.00" y1="571.40" x2="285.00" y2="571.40" stroke="#000" stroke-width="1.7"/>
<line x1="276.00" y1="582.30" x2="285.00" y2="582.30" stroke="#000" stroke-width="1.7"/>
<line x1="271.00" y1="574.10" x2="290.00" y2="574.10" stroke="#000" stroke-width="1.7"/>
<line x1="306.20" y1="552.70" x2="306.20" y2="570.00" stroke="#000" stroke-width="1.7"/>
<line x1="301.70" y1="552.70" x2="310.70" y2="552.70" stroke="#000" stroke-width="1.7"/>
<line x1="301.70" y1="570.00" x2="310.70" y2="570.00" stroke="#000" stroke-width="1.7"/>
<line x1="296.70" y1="561.00" x2="315.70" y2="561.00" stroke="#000" stroke-width="1.7"/>
<line x1="331.60" y1="499.00" x2="331.60" y2="569.50" stroke="#000" stroke-width="1.7"/>
<line x1="327.10" y1="499.00" x2="336.10" y2="499.00" stroke="#000" stroke-width="1.7"/>
<line x1="327.10" y1="569.50" x2="336.10" y2="569.50" stroke="#000" stroke-width="1.7"/>
<line x1="322.10" y1="550.60" x2="341.10" y2="550.60" stroke="#000" stroke-width="1.7"/>
<rect x="76.50" y="581.00" width="9.00" height="9.00" fill="#b00a35" fill-opacity="0.35"/>
<rect x="88.00" y="578.00" width="9.00" height="9.00" fill="#b00a35" fill-opacity="0.35"/>
<rect x="82.50" y="580.50" width="9.00" height="9.00" fill="#b00a35" fill-opacity="0.35"/>
<rect x="76.50" y="584.50" width="9.00" height="9.00" fill="#b00a35" fill-opacity="0.35"/>
<rect x="87.50" y="583.50" width="9.00" height="9.00" fill="#b00a35" fill-opacity="0.35"/>
<rect x="82.50" y="585.00" width="9.00" height="9.00" fill="#b00a35" fill-opacity="0.35"/>
<rect x="179.20" y="554.10" width="9.00" height="9.00" fill="#b00a35" fill-opacity="0.35"/>
<rect x="175.50" y="567.50" width="9.00" height="9.00" fill="#b00a35" fill-opacity="0.35"/>
<rect x="183.50" y="567.50" width="9.00" height="9.00" fill="#b00a35" fill-opacity="0.35"/>
<rect x="175.50" y="573.50" width="9.00" height="9.00" fill="#b00a35" fill-opacity="0.35"/>
<rect x="183.50" y="573.50" width="9.00" height="9.00" fill="#b00a35" fill-opacity="0.35"/>
<rect x="179.50" y="575.50" width="9.00" height="9.00" fill="#b00a35" fill-opacity="0.35"/>
<rect x="269.90" y="568.90" width="9.00" height="9.00" fill="#b00a35" fill-opacity="0.35"/>
<rect x="270.10" y="571.70" width="9.00" height="9.00" fill="#b00a35" fill-opacity="0.35"/>
<rect x="282.40" y="566.90" width="9.00" height="9.00" fill="#b00a35" fill-opacity="0.35"/>
<rect x="282.10" y="570.30" width="9.00" height="9.00" fill="#b00a35" fill-opacity="0.35"/>
<rect x="274.10" y="577.70" width="9.00" height="9.00" fill="#b00a35" fill-opacity="0.35"/>
<rect x="277.80" y="577.80" width="9.00" height="9.00" fill="#b00a35" fill-opacity="0.35"/>
<line x1="86.40" y1="545.80" x2="138.00" y2="545.80" stroke="#000" stroke-width="1.7"/>
<polygon points="109.10,538.70 109.69,540.09 111.19,540.22 110.05,541.21 110.39,542.68 109.10,541.90 107.81,542.68 108.15,541.21 107.01,540.22 108.51,540.09" fill="#000" stroke="#000" stroke-width="0.35" stroke-linejoin="round"/>
<polygon points="114.90,538.70 115.49,540.09 116.99,540.22 115.85,541.21 116.19,542.68 114.90,541.90 113.61,542.68 113.95,541.21 112.81,540.22 114.31,540.09" fill="#000" stroke="#000" stroke-width="0.35" stroke-linejoin="round"/>
<line x1="111.50" y1="557.40" x2="138.00" y2="557.40" stroke="#000" stroke-width="1.7"/>
<polygon points="122.10,550.30 122.69,551.69 124.19,551.82 123.05,552.81 123.39,554.28 122.10,553.50 120.81,554.28 121.15,552.81 120.01,551.82 121.51,551.69" fill="#000" stroke="#000" stroke-width="0.35" stroke-linejoin="round"/>
<polygon points="127.90,550.30 128.49,551.69 129.99,551.82 128.85,552.81 129.19,554.28 127.90,553.50 126.61,554.28 126.95,552.81 125.81,551.82 127.31,551.69" fill="#000" stroke="#000" stroke-width="0.35" stroke-linejoin="round"/>
<line x1="183.80" y1="512.80" x2="235.40" y2="512.80" stroke="#000" stroke-width="1.7"/>
<polygon points="209.20,505.80 209.79,507.19 211.29,507.32 210.15,508.31 210.49,509.78 209.20,509.00 207.91,509.78 208.25,508.31 207.11,507.32 208.61,507.19" fill="#000" stroke="#000" stroke-width="0.35" stroke-linejoin="round"/>
<line x1="279.70" y1="488.30" x2="332.50" y2="488.30" stroke="#000" stroke-width="1.7"/>
<polygon points="306.00,480.70 306.59,482.09 308.09,482.22 306.95,483.21 307.29,484.68 306.00,483.90 304.71,484.68 305.05,483.21 303.91,482.22 305.41,482.09" fill="#000" stroke="#000" stroke-width="0.35" stroke-linejoin="round"/>
<line x1="279.70" y1="540.60" x2="305.70" y2="540.60" stroke="#000" stroke-width="1.7"/>
<polygon points="289.40,533.80 289.99,535.19 291.49,535.32 290.35,536.31 290.69,537.78 289.40,537.00 288.11,537.78 288.45,536.31 287.31,535.32 288.81,535.19" fill="#000" stroke="#000" stroke-width="0.35" stroke-linejoin="round"/>
<polygon points="295.20,533.80 295.79,535.19 297.29,535.32 296.15,536.31 296.49,537.78 295.20,537.00 293.91,537.78 294.25,536.31 293.11,535.32 294.61,535.19" fill="#000" stroke="#000" stroke-width="0.35" stroke-linejoin="round"/>
<rect x="374.80" y="502.80" width="10.4" height="10.4" fill="#b00a35" stroke="#900b2c" stroke-width="0.8"/>
<text transform="translate(389.40,512.10) scale(1,0.87)" font-size="11.6" text-anchor="start" font-weight="normal" font-style="normal" textLength="70.4" lengthAdjust="spacingAndGlyphs">Active cGVHD</text>
<rect x="375.55" y="522.35" width="8.9" height="8.9" fill="#fff" stroke="#2c3553" stroke-width="1.5"/>
<text transform="translate(389.40,530.90) scale(1,0.87)" font-size="11.6" text-anchor="start" font-weight="normal" font-style="normal" textLength="55.0" lengthAdjust="spacingAndGlyphs">No cGVHD</text>
<rect x="375.50" y="540.80" width="9.0" height="9.0" fill="#bcdc9f" stroke="#7fb262" stroke-width="1.4"/>
<text transform="translate(389.40,549.40) scale(1,0.87)" font-size="11.6" text-anchor="start" font-weight="normal" font-style="normal" textLength="75.2" lengthAdjust="spacingAndGlyphs">Healthy donors</text>
<text transform="translate(10.00,655.00) scale(1,1.0)" font-size="16.8" text-anchor="start" font-weight="bold" font-style="normal" >D</text>
<line x1="64.00" y1="661.30" x2="64.00" y2="808.50" stroke="#000" stroke-width="2"/>
<line x1="58.50" y1="807.50" x2="64.00" y2="807.50" stroke="#000" stroke-width="1.8"/>
<text transform="translate(53.80,811.34) scale(1,0.87)" font-size="12" text-anchor="end" font-weight="normal" font-style="normal" >0.0</text>
<line x1="58.50" y1="772.05" x2="64.00" y2="772.05" stroke="#000" stroke-width="1.8"/>
<text transform="translate(53.80,775.89) scale(1,0.87)" font-size="12" text-anchor="end" font-weight="normal" font-style="normal" >0.5</text>
<line x1="58.50" y1="736.60" x2="64.00" y2="736.60" stroke="#000" stroke-width="1.8"/>
<text transform="translate(53.80,740.44) scale(1,0.87)" font-size="12" text-anchor="end" font-weight="normal" font-style="normal" >1.0</text>
<line x1="58.50" y1="701.15" x2="64.00" y2="701.15" stroke="#000" stroke-width="1.8"/>
<text transform="translate(53.80,704.99) scale(1,0.87)" font-size="12" text-anchor="end" font-weight="normal" font-style="normal" >1.5</text>
<line x1="58.50" y1="665.70" x2="64.00" y2="665.70" stroke="#000" stroke-width="1.8"/>
<text transform="translate(53.80,669.54) scale(1,0.87)" font-size="12" text-anchor="end" font-weight="normal" font-style="normal" >2.0</text>
<line x1="59.50" y1="807.50" x2="113.00" y2="807.50" stroke="#000" stroke-width="2"/>
<line x1="76.00" y1="807.50" x2="76.00" y2="813.00" stroke="#000" stroke-width="1.8"/>
<line x1="100.20" y1="807.50" x2="100.20" y2="813.00" stroke="#000" stroke-width="1.8"/>
<text transform="translate(30.30,734.10) rotate(-90)" x="0" y="0" font-size="14.6" text-anchor="middle" textLength="89.4" lengthAdjust="spacingAndGlyphs"><tspan font-style="italic">IRF4</tspan><tspan font-style="normal"> expression</tspan></text>
<rect x="62.50" y="733.50" width="9.00" height="9.00" fill="#b00a35" stroke="#900b2c" stroke-width="0.6"/>
<rect x="76.10" y="724.50" width="9.00" height="9.00" fill="#b00a35" stroke="#900b2c" stroke-width="0.6"/>
<rect x="68.50" y="741.50" width="9.00" height="9.00" fill="#b00a35" stroke="#900b2c" stroke-width="0.6"/>
<rect x="76.10" y="744.90" width="9.00" height="9.00" fill="#b00a35" stroke="#900b2c" stroke-width="0.6"/>
<rect x="67.50" y="757.50" width="9.00" height="9.00" fill="#b00a35" stroke="#900b2c" stroke-width="0.6"/>
<rect x="76.10" y="756.10" width="9.00" height="9.00" fill="#b00a35" stroke="#900b2c" stroke-width="0.6"/>
<rect x="96.10" y="678.50" width="9.00" height="9.00" fill="#b00a35" stroke="#900b2c" stroke-width="0.6"/>
<rect x="96.10" y="701.10" width="9.00" height="9.00" fill="#b00a35" stroke="#900b2c" stroke-width="0.6"/>
<rect x="92.40" y="715.50" width="9.00" height="9.00" fill="#b00a35" stroke="#900b2c" stroke-width="0.6"/>
<rect x="100.90" y="717.50" width="9.00" height="9.00" fill="#b00a35" stroke="#900b2c" stroke-width="0.6"/>
<rect x="90.90" y="731.50" width="9.00" height="9.00" fill="#b00a35" stroke="#900b2c" stroke-width="0.6"/>
<rect x="100.25" y="728.90" width="9.00" height="9.00" fill="#b00a35" stroke="#900b2c" stroke-width="0.6"/>
<line x1="76.00" y1="729.00" x2="76.00" y2="762.00" stroke="#000" stroke-width="1.7"/>
<line x1="71.50" y1="729.00" x2="80.50" y2="729.00" stroke="#000" stroke-width="1.7"/>
<line x1="71.50" y1="762.00" x2="80.50" y2="762.00" stroke="#000" stroke-width="1.7"/>
<line x1="66.50" y1="747.00" x2="85.50" y2="747.00" stroke="#000" stroke-width="1.7"/>
<line x1="100.30" y1="683.00" x2="100.30" y2="736.00" stroke="#000" stroke-width="1.7"/>
<line x1="95.80" y1="683.00" x2="104.80" y2="683.00" stroke="#000" stroke-width="1.7"/>
<line x1="95.80" y1="736.00" x2="104.80" y2="736.00" stroke="#000" stroke-width="1.7"/>
<line x1="90.80" y1="716.25" x2="109.80" y2="716.25" stroke="#000" stroke-width="1.7"/>
<rect x="62.50" y="733.50" width="9.00" height="9.00" fill="#b00a35" fill-opacity="0.35"/>
<rect x="76.10" y="724.50" width="9.00" height="9.00" fill="#b00a35" fill-opacity="0.35"/>
<rect x="68.50" y="741.50" width="9.00" height="9.00" fill="#b00a35" fill-opacity="0.35"/>
<rect x="76.10" y="744.90" width="9.00" height="9.00" fill="#b00a35" fill-opacity="0.35"/>
<rect x="67.50" y="757.50" width="9.00" height="9.00" fill="#b00a35" fill-opacity="0.35"/>
<rect x="76.10" y="756.10" width="9.00" height="9.00" fill="#b00a35" fill-opacity="0.35"/>
<rect x="96.10" y="678.50" width="9.00" height="9.00" fill="#b00a35" fill-opacity="0.35"/>
<rect x="96.10" y="701.10" width="9.00" height="9.00" fill="#b00a35" fill-opacity="0.35"/>
<rect x="92.40" y="715.50" width="9.00" height="9.00" fill="#b00a35" fill-opacity="0.35"/>
<rect x="100.90" y="717.50" width="9.00" height="9.00" fill="#b00a35" fill-opacity="0.35"/>
<rect x="90.90" y="731.50" width="9.00" height="9.00" fill="#b00a35" fill-opacity="0.35"/>
<rect x="100.25" y="728.90" width="9.00" height="9.00" fill="#b00a35" fill-opacity="0.35"/>
<line x1="75.00" y1="673.00" x2="101.25" y2="673.00" stroke="#000" stroke-width="1.7"/>
<polygon points="85.20,665.10 85.79,666.49 87.29,666.62 86.15,667.61 86.49,669.08 85.20,668.30 83.91,669.08 84.25,667.61 83.11,666.62 84.61,666.49" fill="#000" stroke="#000" stroke-width="0.35" stroke-linejoin="round"/>
<polygon points="91.00,665.10 91.59,666.49 93.09,666.62 91.95,667.61 92.29,669.08 91.00,668.30 89.71,669.08 90.05,667.61 88.91,666.62 90.41,666.49" fill="#000" stroke="#000" stroke-width="0.35" stroke-linejoin="round"/>
<line x1="168.20" y1="661.50" x2="168.20" y2="808.50" stroke="#000" stroke-width="2"/>
<line x1="162.70" y1="807.50" x2="168.20" y2="807.50" stroke="#000" stroke-width="1.8"/>
<text transform="translate(159.20,811.34) scale(1,0.87)" font-size="12" text-anchor="end" font-weight="normal" font-style="normal" >0.0</text>
<line x1="162.70" y1="779.10" x2="168.20" y2="779.10" stroke="#000" stroke-width="1.8"/>
<text transform="translate(159.20,782.94) scale(1,0.87)" font-size="12" text-anchor="end" font-weight="normal" font-style="normal" >0.2</text>
<line x1="162.70" y1="750.70" x2="168.20" y2="750.70" stroke="#000" stroke-width="1.8"/>
<text transform="translate(159.20,754.54) scale(1,0.87)" font-size="12" text-anchor="end" font-weight="normal" font-style="normal" >0.4</text>
<line x1="162.70" y1="722.30" x2="168.20" y2="722.30" stroke="#000" stroke-width="1.8"/>
<text transform="translate(159.20,726.14) scale(1,0.87)" font-size="12" text-anchor="end" font-weight="normal" font-style="normal" >0.6</text>
<line x1="162.70" y1="693.90" x2="168.20" y2="693.90" stroke="#000" stroke-width="1.8"/>
<text transform="translate(159.20,697.74) scale(1,0.87)" font-size="12" text-anchor="end" font-weight="normal" font-style="normal" >0.8</text>
<line x1="162.70" y1="665.50" x2="168.20" y2="665.50" stroke="#000" stroke-width="1.8"/>
<text transform="translate(159.20,669.34) scale(1,0.87)" font-size="12" text-anchor="end" font-weight="normal" font-style="normal" >1.0</text>
<line x1="163.70" y1="807.50" x2="219.40" y2="807.50" stroke="#000" stroke-width="2"/>
<line x1="181.30" y1="807.50" x2="181.30" y2="813.00" stroke="#000" stroke-width="1.8"/>
<line x1="206.50" y1="807.50" x2="206.50" y2="813.00" stroke="#000" stroke-width="1.8"/>
<text transform="translate(135.30,734.30) rotate(-90)" x="0" y="0" font-size="14.6" text-anchor="middle" textLength="89.0" lengthAdjust="spacingAndGlyphs"><tspan font-style="italic">IRF8</tspan><tspan font-style="normal"> expression</tspan></text>
<rect x="176.50" y="670.10" width="9.00" height="9.00" fill="#b00a35" stroke="#900b2c" stroke-width="0.6"/>
<rect x="181.10" y="694.50" width="9.00" height="9.00" fill="#b00a35" stroke="#900b2c" stroke-width="0.6"/>
<rect x="167.00" y="703.00" width="9.00" height="9.00" fill="#b00a35" stroke="#900b2c" stroke-width="0.6"/>
<rect x="172.00" y="707.50" width="9.00" height="9.00" fill="#b00a35" stroke="#900b2c" stroke-width="0.6"/>
<rect x="181.10" y="715.80" width="9.00" height="9.00" fill="#b00a35" stroke="#900b2c" stroke-width="0.6"/>
<rect x="176.50" y="730.50" width="9.00" height="9.00" fill="#b00a35" stroke="#900b2c" stroke-width="0.6"/>
<rect x="202.30" y="683.20" width="9.00" height="9.00" fill="#b00a35" stroke="#900b2c" stroke-width="0.6"/>
<rect x="207.20" y="691.30" width="9.00" height="9.00" fill="#b00a35" stroke="#900b2c" stroke-width="0.6"/>
<rect x="197.50" y="697.50" width="9.00" height="9.00" fill="#b00a35" stroke="#900b2c" stroke-width="0.6"/>
<rect x="197.50" y="717.50" width="9.00" height="9.00" fill="#b00a35" stroke="#900b2c" stroke-width="0.6"/>
<rect x="207.20" y="725.50" width="9.00" height="9.00" fill="#b00a35" stroke="#900b2c" stroke-width="0.6"/>
<rect x="202.00" y="743.10" width="9.00" height="9.00" fill="#b00a35" stroke="#900b2c" stroke-width="0.6"/>
<line x1="181.20" y1="674.60" x2="181.20" y2="735.00" stroke="#000" stroke-width="1.7"/>
<line x1="176.70" y1="674.60" x2="185.70" y2="674.60" stroke="#000" stroke-width="1.7"/>
<line x1="176.70" y1="735.00" x2="185.70" y2="735.00" stroke="#000" stroke-width="1.7"/>
<line x1="171.70" y1="707.70" x2="190.70" y2="707.70" stroke="#000" stroke-width="1.7"/>
<line x1="207.30" y1="687.70" x2="207.30" y2="747.60" stroke="#000" stroke-width="1.7"/>
<line x1="202.80" y1="687.70" x2="211.80" y2="687.70" stroke="#000" stroke-width="1.7"/>
<line x1="202.80" y1="747.60" x2="211.80" y2="747.60" stroke="#000" stroke-width="1.7"/>
<line x1="197.80" y1="714.00" x2="216.80" y2="714.00" stroke="#000" stroke-width="1.7"/>
<rect x="176.50" y="670.10" width="9.00" height="9.00" fill="#b00a35" fill-opacity="0.35"/>
<rect x="181.10" y="694.50" width="9.00" height="9.00" fill="#b00a35" fill-opacity="0.35"/>
<rect x="167.00" y="703.00" width="9.00" height="9.00" fill="#b00a35" fill-opacity="0.35"/>
<rect x="172.00" y="707.50" width="9.00" height="9.00" fill="#b00a35" fill-opacity="0.35"/>
<rect x="181.10" y="715.80" width="9.00" height="9.00" fill="#b00a35" fill-opacity="0.35"/>
<rect x="176.50" y="730.50" width="9.00" height="9.00" fill="#b00a35" fill-opacity="0.35"/>
<rect x="202.30" y="683.20" width="9.00" height="9.00" fill="#b00a35" fill-opacity="0.35"/>
<rect x="207.20" y="691.30" width="9.00" height="9.00" fill="#b00a35" fill-opacity="0.35"/>
<rect x="197.50" y="697.50" width="9.00" height="9.00" fill="#b00a35" fill-opacity="0.35"/>
<rect x="197.50" y="717.50" width="9.00" height="9.00" fill="#b00a35" fill-opacity="0.35"/>
<rect x="207.20" y="725.50" width="9.00" height="9.00" fill="#b00a35" fill-opacity="0.35"/>
<rect x="202.00" y="743.10" width="9.00" height="9.00" fill="#b00a35" fill-opacity="0.35"/>
<line x1="265.50" y1="661.20" x2="265.50" y2="808.30" stroke="#000" stroke-width="2"/>
<line x1="260.00" y1="807.30" x2="265.50" y2="807.30" stroke="#000" stroke-width="1.8"/>
<text transform="translate(255.80,811.14) scale(1,0.87)" font-size="12" text-anchor="end" font-weight="normal" font-style="normal" >0</text>
<line x1="260.00" y1="760.00" x2="265.50" y2="760.00" stroke="#000" stroke-width="1.8"/>
<text transform="translate(255.80,763.84) scale(1,0.87)" font-size="12" text-anchor="end" font-weight="normal" font-style="normal" >1</text>
<line x1="260.00" y1="712.70" x2="265.50" y2="712.70" stroke="#000" stroke-width="1.8"/>
<text transform="translate(255.80,716.54) scale(1,0.87)" font-size="12" text-anchor="end" font-weight="normal" font-style="normal" >2</text>
<line x1="260.00" y1="665.40" x2="265.50" y2="665.40" stroke="#000" stroke-width="1.8"/>
<text transform="translate(255.80,669.24) scale(1,0.87)" font-size="12" text-anchor="end" font-weight="normal" font-style="normal" >3</text>
<line x1="260.80" y1="807.30" x2="317.80" y2="807.30" stroke="#000" stroke-width="2"/>
<line x1="278.20" y1="807.30" x2="278.20" y2="812.80" stroke="#000" stroke-width="1.8"/>
<line x1="304.60" y1="807.30" x2="304.60" y2="812.80" stroke="#000" stroke-width="1.8"/>
<text transform="translate(242.20,734.10) rotate(-90)" x="0" y="0" font-size="14.6" text-anchor="middle" textLength="83.8" lengthAdjust="spacingAndGlyphs"><tspan font-style="italic">IRF4/IRF8</tspan><tspan font-style="normal"> ratio</tspan></text>
<rect x="273.80" y="700.10" width="9.00" height="9.00" fill="#b00a35" stroke="#900b2c" stroke-width="0.6"/>
<rect x="269.50" y="739.90" width="9.00" height="9.00" fill="#b00a35" stroke="#900b2c" stroke-width="0.6"/>
<rect x="278.50" y="742.30" width="9.00" height="9.00" fill="#b00a35" stroke="#900b2c" stroke-width="0.6"/>
<rect x="269.50" y="759.00" width="9.00" height="9.00" fill="#b00a35" stroke="#900b2c" stroke-width="0.6"/>
<rect x="278.50" y="759.00" width="9.00" height="9.00" fill="#b00a35" stroke="#900b2c" stroke-width="0.6"/>
<rect x="300.10" y="665.30" width="9.00" height="9.00" fill="#b00a35" stroke="#900b2c" stroke-width="0.6"/>
<rect x="295.50" y="692.50" width="9.00" height="9.00" fill="#b00a35" stroke="#900b2c" stroke-width="0.6"/>
<rect x="304.70" y="692.50" width="9.00" height="9.00" fill="#b00a35" stroke="#900b2c" stroke-width="0.6"/>
<rect x="299.80" y="717.00" width="9.00" height="9.00" fill="#b00a35" stroke="#900b2c" stroke-width="0.6"/>
<rect x="304.70" y="735.30" width="9.00" height="9.00" fill="#b00a35" stroke="#900b2c" stroke-width="0.6"/>
<rect x="295.50" y="739.90" width="9.00" height="9.00" fill="#b00a35" stroke="#900b2c" stroke-width="0.6"/>
<line x1="278.50" y1="704.60" x2="278.50" y2="763.50" stroke="#000" stroke-width="1.7"/>
<line x1="274.00" y1="704.60" x2="283.00" y2="704.60" stroke="#000" stroke-width="1.7"/>
<line x1="274.00" y1="763.50" x2="283.00" y2="763.50" stroke="#000" stroke-width="1.7"/>
<line x1="269.00" y1="747.30" x2="288.00" y2="747.30" stroke="#000" stroke-width="1.7"/>
<line x1="304.60" y1="669.80" x2="304.60" y2="744.40" stroke="#000" stroke-width="1.7"/>
<line x1="300.10" y1="669.80" x2="309.10" y2="669.80" stroke="#000" stroke-width="1.7"/>
<line x1="300.10" y1="744.40" x2="309.10" y2="744.40" stroke="#000" stroke-width="1.7"/>
<line x1="295.10" y1="711.10" x2="314.10" y2="711.10" stroke="#000" stroke-width="1.7"/>
<rect x="273.80" y="700.10" width="9.00" height="9.00" fill="#b00a35" fill-opacity="0.35"/>
<rect x="269.50" y="739.90" width="9.00" height="9.00" fill="#b00a35" fill-opacity="0.35"/>
<rect x="278.50" y="742.30" width="9.00" height="9.00" fill="#b00a35" fill-opacity="0.35"/>
<rect x="269.50" y="759.00" width="9.00" height="9.00" fill="#b00a35" fill-opacity="0.35"/>
<rect x="278.50" y="759.00" width="9.00" height="9.00" fill="#b00a35" fill-opacity="0.35"/>
<rect x="300.10" y="665.30" width="9.00" height="9.00" fill="#b00a35" fill-opacity="0.35"/>
<rect x="295.50" y="692.50" width="9.00" height="9.00" fill="#b00a35" fill-opacity="0.35"/>
<rect x="304.70" y="692.50" width="9.00" height="9.00" fill="#b00a35" fill-opacity="0.35"/>
<rect x="299.80" y="717.00" width="9.00" height="9.00" fill="#b00a35" fill-opacity="0.35"/>
<rect x="304.70" y="735.30" width="9.00" height="9.00" fill="#b00a35" fill-opacity="0.35"/>
<rect x="295.50" y="739.90" width="9.00" height="9.00" fill="#b00a35" fill-opacity="0.35"/>
<line x1="277.60" y1="661.90" x2="303.90" y2="661.90" stroke="#000" stroke-width="1.7"/>
<polygon points="287.80,654.70 288.39,656.09 289.89,656.22 288.75,657.21 289.09,658.68 287.80,657.90 286.51,658.68 286.85,657.21 285.71,656.22 287.21,656.09" fill="#000" stroke="#000" stroke-width="0.35" stroke-linejoin="round"/>
<polygon points="293.60,654.70 294.19,656.09 295.69,656.22 294.55,657.21 294.89,658.68 293.60,657.90 292.31,658.68 292.65,657.21 291.51,656.22 293.01,656.09" fill="#000" stroke="#000" stroke-width="0.35" stroke-linejoin="round"/>
<text transform="translate(82.30,824.20) rotate(-45)" font-size="12" text-anchor="end">Veh.</text>
<text transform="translate(106.50,824.20) rotate(-45)" font-size="12" text-anchor="end">ATRA</text>
<text transform="translate(187.60,824.20) rotate(-45)" font-size="12" text-anchor="end">Veh.</text>
<text transform="translate(212.80,824.20) rotate(-45)" font-size="12" text-anchor="end">ATRA</text>
<text transform="translate(284.50,824.20) rotate(-45)" font-size="12" text-anchor="end">Veh.</text>
<text transform="translate(310.90,824.20) rotate(-45)" font-size="12" text-anchor="end">ATRA</text>
<text transform="translate(341.60,648.60) scale(1,1.0)" font-size="16.8" text-anchor="start" font-weight="bold" font-style="normal" >E</text>
<line x1="402.60" y1="661.50" x2="402.60" y2="808.80" stroke="#000" stroke-width="2"/>
<line x1="397.10" y1="807.80" x2="402.60" y2="807.80" stroke="#000" stroke-width="1.8"/>
<text transform="translate(394.60,811.64) scale(1,0.87)" font-size="12" text-anchor="end" font-weight="normal" font-style="normal" >0.8</text>
<line x1="397.10" y1="779.14" x2="402.60" y2="779.14" stroke="#000" stroke-width="1.8"/>
<text transform="translate(394.60,782.98) scale(1,0.87)" font-size="12" text-anchor="end" font-weight="normal" font-style="normal" >0.9</text>
<line x1="397.10" y1="750.48" x2="402.60" y2="750.48" stroke="#000" stroke-width="1.8"/>
<text transform="translate(394.60,754.32) scale(1,0.87)" font-size="12" text-anchor="end" font-weight="normal" font-style="normal" >1.0</text>
<line x1="397.10" y1="721.82" x2="402.60" y2="721.82" stroke="#000" stroke-width="1.8"/>
<text transform="translate(394.60,725.66) scale(1,0.87)" font-size="12" text-anchor="end" font-weight="normal" font-style="normal" >1.1</text>
<line x1="397.10" y1="693.16" x2="402.60" y2="693.16" stroke="#000" stroke-width="1.8"/>
<text transform="translate(394.60,697.00) scale(1,0.87)" font-size="12" text-anchor="end" font-weight="normal" font-style="normal" >1.2</text>
<line x1="397.10" y1="664.50" x2="402.60" y2="664.50" stroke="#000" stroke-width="1.8"/>
<text transform="translate(394.60,668.34) scale(1,0.87)" font-size="12" text-anchor="end" font-weight="normal" font-style="normal" >1.3</text>
<line x1="397.60" y1="807.80" x2="509.60" y2="807.80" stroke="#000" stroke-width="2"/>
<line x1="416.00" y1="807.80" x2="416.00" y2="813.30" stroke="#000" stroke-width="1.8"/>
<line x1="442.60" y1="807.80" x2="442.60" y2="813.30" stroke="#000" stroke-width="1.8"/>
<line x1="469.20" y1="807.80" x2="469.20" y2="813.30" stroke="#000" stroke-width="1.8"/>
<line x1="495.80" y1="807.80" x2="495.80" y2="813.30" stroke="#000" stroke-width="1.8"/>
<text transform="translate(369.90,733.70) rotate(-90)" x="0" y="0" font-size="14.6" text-anchor="middle" textLength="114.5" lengthAdjust="spacingAndGlyphs"><tspan font-style="normal">MFI (ATRA / vehicle)</tspan></text>
<line x1="404" y1="750.48" x2="505" y2="750.48" stroke="#000" stroke-width="1.7" stroke-dasharray="5.5,2.5"/>
<rect x="412.20" y="700.90" width="9.00" height="9.00" fill="#b00a35" stroke="#900b2c" stroke-width="0.6"/>
<rect x="412.50" y="713.00" width="9.00" height="9.00" fill="#b00a35" stroke="#900b2c" stroke-width="0.6"/>
<rect x="415.90" y="715.00" width="9.00" height="9.00" fill="#b00a35" stroke="#900b2c" stroke-width="0.6"/>
<rect x="409.30" y="720.50" width="9.00" height="9.00" fill="#b00a35" stroke="#900b2c" stroke-width="0.6"/>
<rect x="412.20" y="726.20" width="9.00" height="9.00" fill="#b00a35" stroke="#900b2c" stroke-width="0.6"/>
<rect x="411.50" y="746.50" width="9.00" height="9.00" fill="#b00a35" stroke="#900b2c" stroke-width="0.6"/>
<rect x="436.50" y="687.90" width="9.00" height="9.00" fill="#b00a35" stroke="#900b2c" stroke-width="0.6"/>
<rect x="442.50" y="687.90" width="9.00" height="9.00" fill="#b00a35" stroke="#900b2c" stroke-width="0.6"/>
<rect x="438.50" y="698.80" width="9.00" height="9.00" fill="#b00a35" stroke="#900b2c" stroke-width="0.6"/>
<rect x="438.20" y="723.70" width="9.00" height="9.00" fill="#b00a35" stroke="#900b2c" stroke-width="0.6"/>
<rect x="443.50" y="736.10" width="9.00" height="9.00" fill="#b00a35" stroke="#900b2c" stroke-width="0.6"/>
<rect x="434.10" y="743.50" width="9.00" height="9.00" fill="#b00a35" stroke="#900b2c" stroke-width="0.6"/>
<rect x="460.50" y="728.50" width="9.00" height="9.00" fill="#b00a35" stroke="#900b2c" stroke-width="0.6"/>
<rect x="469.50" y="734.70" width="9.00" height="9.00" fill="#b00a35" stroke="#900b2c" stroke-width="0.6"/>
<rect x="469.50" y="743.50" width="9.00" height="9.00" fill="#b00a35" stroke="#900b2c" stroke-width="0.6"/>
<rect x="460.50" y="752.50" width="9.00" height="9.00" fill="#b00a35" stroke="#900b2c" stroke-width="0.6"/>
<rect x="495.00" y="751.50" width="9.00" height="9.00" fill="#b00a35" stroke="#900b2c" stroke-width="0.6"/>
<rect x="488.00" y="758.50" width="9.00" height="9.00" fill="#b00a35" stroke="#900b2c" stroke-width="0.6"/>
<rect x="491.80" y="787.30" width="9.00" height="9.00" fill="#b00a35" stroke="#900b2c" stroke-width="0.6"/>
<line x1="416.20" y1="705.40" x2="416.20" y2="748.00" stroke="#000" stroke-width="1.7"/>
<line x1="411.70" y1="705.40" x2="420.70" y2="705.40" stroke="#000" stroke-width="1.7"/>
<line x1="411.70" y1="748.00" x2="420.70" y2="748.00" stroke="#000" stroke-width="1.7"/>
<line x1="406.70" y1="724.50" x2="425.70" y2="724.50" stroke="#000" stroke-width="1.7"/>
<line x1="442.70" y1="692.40" x2="442.70" y2="748.00" stroke="#000" stroke-width="1.7"/>
<line x1="438.20" y1="692.40" x2="447.20" y2="692.40" stroke="#000" stroke-width="1.7"/>
<line x1="438.20" y1="748.00" x2="447.20" y2="748.00" stroke="#000" stroke-width="1.7"/>
<line x1="433.20" y1="716.90" x2="452.20" y2="716.90" stroke="#000" stroke-width="1.7"/>
<line x1="469.30" y1="733.00" x2="469.30" y2="757.00" stroke="#000" stroke-width="1.7"/>
<line x1="464.80" y1="733.00" x2="473.80" y2="733.00" stroke="#000" stroke-width="1.7"/>
<line x1="464.80" y1="757.00" x2="473.80" y2="757.00" stroke="#000" stroke-width="1.7"/>
<line x1="459.80" y1="743.80" x2="478.80" y2="743.80" stroke="#000" stroke-width="1.7"/>
<line x1="495.80" y1="756.00" x2="495.80" y2="791.80" stroke="#000" stroke-width="1.7"/>
<line x1="491.30" y1="756.00" x2="500.30" y2="756.00" stroke="#000" stroke-width="1.7"/>
<line x1="491.30" y1="791.80" x2="500.30" y2="791.80" stroke="#000" stroke-width="1.7"/>
<line x1="486.30" y1="768.50" x2="505.30" y2="768.50" stroke="#000" stroke-width="1.7"/>
<line x1="406.60" y1="748.00" x2="425.80" y2="748.00" stroke="#000" stroke-width="1.7"/>
<rect x="412.20" y="700.90" width="9.00" height="9.00" fill="#b00a35" fill-opacity="0.35"/>
<rect x="412.50" y="713.00" width="9.00" height="9.00" fill="#b00a35" fill-opacity="0.35"/>
<rect x="415.90" y="715.00" width="9.00" height="9.00" fill="#b00a35" fill-opacity="0.35"/>
<rect x="409.30" y="720.50" width="9.00" height="9.00" fill="#b00a35" fill-opacity="0.35"/>
<rect x="412.20" y="726.20" width="9.00" height="9.00" fill="#b00a35" fill-opacity="0.35"/>
<rect x="411.50" y="746.50" width="9.00" height="9.00" fill="#b00a35" fill-opacity="0.35"/>
<rect x="436.50" y="687.90" width="9.00" height="9.00" fill="#b00a35" fill-opacity="0.35"/>
<rect x="442.50" y="687.90" width="9.00" height="9.00" fill="#b00a35" fill-opacity="0.35"/>
<rect x="438.50" y="698.80" width="9.00" height="9.00" fill="#b00a35" fill-opacity="0.35"/>
<rect x="438.20" y="723.70" width="9.00" height="9.00" fill="#b00a35" fill-opacity="0.35"/>
<rect x="443.50" y="736.10" width="9.00" height="9.00" fill="#b00a35" fill-opacity="0.35"/>
<rect x="434.10" y="743.50" width="9.00" height="9.00" fill="#b00a35" fill-opacity="0.35"/>
<rect x="460.50" y="728.50" width="9.00" height="9.00" fill="#b00a35" fill-opacity="0.35"/>
<rect x="469.50" y="734.70" width="9.00" height="9.00" fill="#b00a35" fill-opacity="0.35"/>
<rect x="469.50" y="743.50" width="9.00" height="9.00" fill="#b00a35" fill-opacity="0.35"/>
<rect x="460.50" y="752.50" width="9.00" height="9.00" fill="#b00a35" fill-opacity="0.35"/>
<rect x="495.00" y="751.50" width="9.00" height="9.00" fill="#b00a35" fill-opacity="0.35"/>
<rect x="488.00" y="758.50" width="9.00" height="9.00" fill="#b00a35" fill-opacity="0.35"/>
<rect x="491.80" y="787.30" width="9.00" height="9.00" fill="#b00a35" fill-opacity="0.35"/>
<line x1="469.30" y1="720.80" x2="497.70" y2="720.80" stroke="#000" stroke-width="1.7"/>
<polygon points="483.20,712.40 483.79,713.79 485.29,713.92 484.15,714.91 484.49,716.38 483.20,715.60 481.91,716.38 482.25,714.91 481.11,713.92 482.61,713.79" fill="#000" stroke="#000" stroke-width="0.35" stroke-linejoin="round"/>
<text transform="translate(357.00,827.00) scale(1,0.87)" font-size="12" text-anchor="start" font-weight="normal" font-style="normal" >anti-IgM:</text>
<text transform="translate(416.20,827.00) scale(1,0.87)" font-size="12" text-anchor="middle" font-weight="normal" font-style="normal" >-</text>
<text transform="translate(442.60,827.00) scale(1,0.87)" font-size="12" text-anchor="middle" font-weight="normal" font-style="normal" >+</text>
<text transform="translate(469.40,827.00) scale(1,0.87)" font-size="12" text-anchor="middle" font-weight="normal" font-style="normal" >-</text>
<text transform="translate(495.50,827.00) scale(1,0.87)" font-size="12" text-anchor="middle" font-weight="normal" font-style="normal" >+</text>
<line x1="415.00" y1="833.90" x2="443.60" y2="833.90" stroke="#000" stroke-width="1.7"/>
<line x1="468.00" y1="833.90" x2="496.70" y2="833.90" stroke="#000" stroke-width="1.7"/>
<text transform="translate(429.40,849.20) scale(1,0.87)" font-size="12" text-anchor="middle" font-weight="normal" font-style="normal" >IRF4</text>
<text transform="translate(482.40,849.20) scale(1,0.87)" font-size="12" text-anchor="middle" font-weight="normal" font-style="normal" >IRF8</text>
</svg>
</body></html>
